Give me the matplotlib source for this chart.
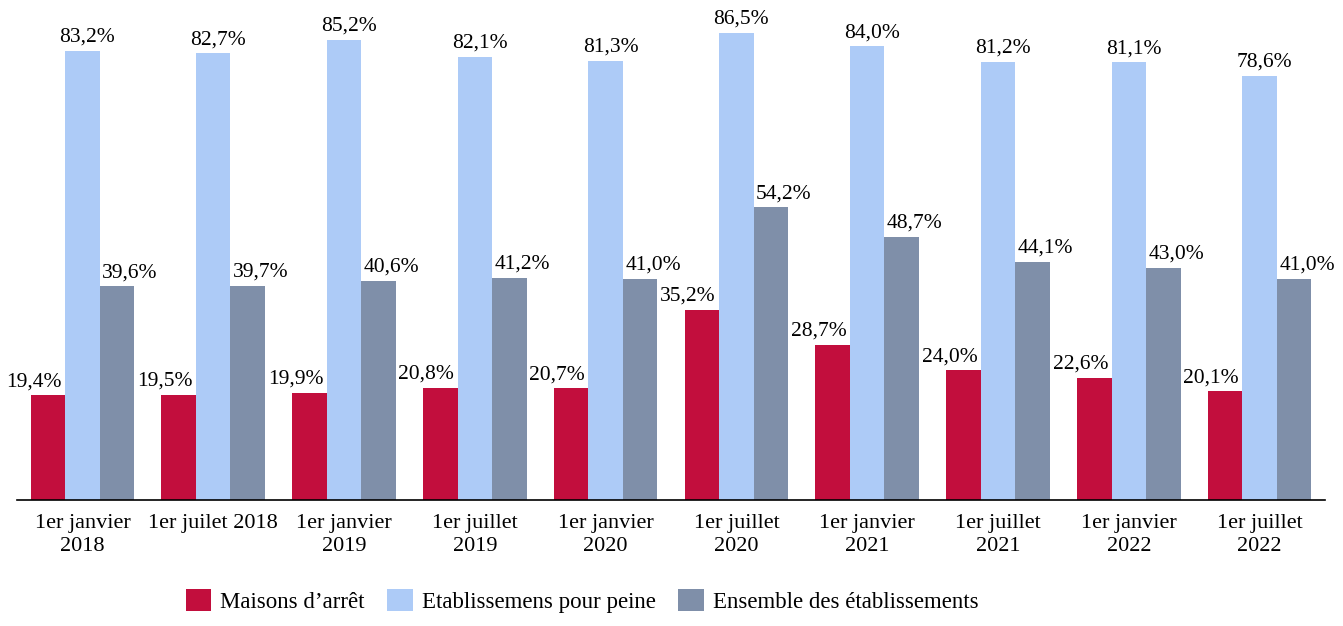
import matplotlib.pyplot as plt
import numpy as np

# data
dates = ['1er janvier\n2018', '1er juilet 2018', '1er janvier\n2019', '1er juillet\n2019',
         '1er janvier\n2020', '1er juillet\n2020', '1er janvier\n2021', '1er juillet\n2021',
         '1er janvier\n2022', '1er juillet\n2022']
maisons = [19.4, 19.5, 19.9, 20.8, 20.7, 35.2, 28.7, 24.0, 22.6, 20.1]
peine = [83.2, 82.7, 85.2, 82.1, 81.3, 86.5, 84.0, 81.2, 81.1, 78.6]
ensemble = [39.6, 39.7, 40.6, 41.2, 41.0, 54.2, 48.7, 44.1, 43.0, 41.0]
names = ['Maisons d\u2019arrêt', 'Etablissemens pour peine', 'Ensemble des établissements']
colors = ['#C20E3D', '#ADCBF7', '#7F8FA9']

plt.rcParams['font.family'] = ['Liberation Serif', 'DejaVu Serif']

fig = plt.figure(figsize=(13.43, 6.26), dpi=100)
ax = fig.add_axes([17/1343, 126/626, 1308/1343, 486/626])

x = np.arange(len(dates))
w = 0.264
series = [maisons, peine, ensemble]
offs = [-14, 5, 13]  # label shift in pixels
for k, vals in enumerate(series):
    pos = x + (k - 1) * w
    ax.bar(pos, vals, w, color=colors[k], label=names[k])
    for xi, v in zip(pos, vals):
        ax.annotate(('%.1f%%' % v).replace('.', ','), (xi, v), xytext=(offs[k], 4),
                    textcoords='offset pixels', ha='center', va='bottom', fontsize=15.5)

ax.set_xlim(-0.5, len(dates) - 0.5)
ax.set_ylim(0, 90)
ax.set_xticks(x)
ax.set_xticklabels(dates, fontsize=16, linespacing=1.3)
ax.tick_params(axis='x', length=0, pad=10)
ax.set_yticks([])
for s in ['top', 'right', 'left']:
    ax.spines[s].set_visible(False)
ax.spines['bottom'].set_linewidth(1.2)

fig.legend(loc='center', bbox_to_anchor=(582/1343, 1 - 601/626), ncol=3, frameon=False,
           fontsize=16.5, handlelength=1.1, handleheight=1.1, handletextpad=0.4, columnspacing=1.0)

fig.savefig('out.png', dpi=100)
